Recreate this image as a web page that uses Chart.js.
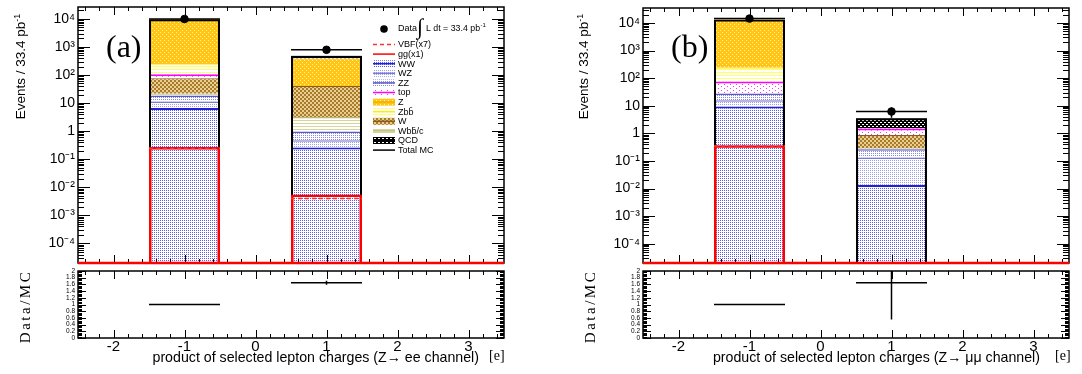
<!DOCTYPE html>
<html>
<head>
<meta charset="utf-8">
<script src="https://cdn.jsdelivr.net/npm/chart.js@4.4.0/dist/chart.umd.min.js"></script>
<style>
  body { margin: 0; background: #fff; width: 1082px; height: 374px; position: relative; overflow: hidden;
         font-family: 'Liberation Sans', Arial, Helvetica, sans-serif; }
  canvas { position: absolute; }
  .lbl { position: absolute; white-space: nowrap; color: #000; line-height: 1; }
  .panel { font-family: 'Liberation Serif', serif; font-size: 32px; }
  .xtitle { font-size: 14.2px; }
  .unit { font-family: 'Liberation Serif', serif; font-size: 14px; }
  .rot { transform: rotate(-90deg); text-align: center; }
  .ytitle { font-size: 13.5px; width: 130px; }
  .rtitle { font-family: 'Liberation Serif', serif; font-size: 15px; letter-spacing: 2.5px; width: 100px; }
</style>
</head>
<body>
<canvas id="topA" width="520" height="268" style="left:0px;top:0px"></canvas>
<canvas id="ratioA" width="520" height="106" style="left:0px;top:268px"></canvas>
<canvas id="topB" width="520" height="268" style="left:562px;top:0px"></canvas>
<canvas id="ratioB" width="520" height="106" style="left:562px;top:268px"></canvas>

<div class="lbl panel" style="left:106px;top:30px">(a)</div>
<div class="lbl panel" style="left:671px;top:30px">(b)</div>

<div class="lbl rot ytitle" style="left:-45px;top:59px">Events / 33.4 pb<sup style="font-size:9px">-1</sup></div>
<div class="lbl rot ytitle" style="left:518px;top:59px">Events / 33.4 pb<sup style="font-size:9px">-1</sup></div>
<div class="lbl rot rtitle" style="left:-25px;top:299px">Data/MC</div>
<div class="lbl rot rtitle" style="left:540px;top:299px">Data/MC</div>

<div class="lbl xtitle" style="right:603px;top:350px">product of selected lepton charges (Z&#8594; ee channel)</div>
<div class="lbl unit" style="left:489px;top:349px">[e]</div>
<div class="lbl xtitle" style="right:42px;top:350px">product of selected lepton charges (Z&#8594; &#956;&#956; channel)</div>
<div class="lbl unit" style="left:1055px;top:349px">[e]</div>

<script>
var FONT = "'Liberation Sans', Arial, Helvetica, sans-serif";

// ── binning: product of selected lepton charges ──
var binCenters = [-1, 1];
var binHalfWidth = 0.5;
var xTicks = [-2, -1, 0, 1, 2, 3];

// ── axis ticks ──
var logTicks = [1e-4, 1e-3, 1e-2, 1e-1, 1, 10, 100, 1e3, 1e4];
var logTickLabels = ['10\u207b\u2074', '10\u207b\u00b3', '10\u207b\u00b2', '10\u207b\u00b9', '1', '10', '10\u00b2', '10\u00b3', '10\u2074'];
var ratioTicks = [0, 0.2, 0.4, 0.6, 0.8, 1, 1.2, 1.4, 1.6, 1.8, 2];
var ratioTickLabels = ['0', '0.2', '0.4', '0.6', '0.8', '1', '1.2', '1.4', '1.6', '1.8', '2'];

// stack order, bottom to top
var componentNames = ['WW', 'WZ', 'ZZ', 'Wbb/c', 'W', 'top', 'Zbb', 'Z', 'QCD'];
// legend rows (text) and the component each row shows
var legendLabels = ['VBF(x7)', 'gg(x1)', 'WW', 'WZ', 'ZZ', 'top', 'Z', 'Zbb\u0304', 'W', 'Wbb\u0304/c', 'QCD', 'Total MC'];
var legendKeys = ['VBF', 'gg', 'WW', 'WZ', 'ZZ', 'top', 'Z', 'Zbb', 'W', 'Wbb/c', 'QCD', 'Total'];

// ── panel (a): Z -> ee, values for bins [-1, +1] ──
var eeWW   = [6.7, 0.26];
var eeWZ   = [4.6, 0.21];
var eeZZ   = [7.2, 0.51];
var eeWbbc = [3.0, 2.2];
var eeW    = [55, 37];
var eeTop  = [30, 0.3];
var eeZbb  = [135, 0.2];
var eeZ    = [9450, 350];
var eeQCD  = [0, 90];
var eeGG   = [0.27, 0.0055];
var eeVBF  = [0.24, 0.004];
var eeData = [9900, 790];
var eeDataErr = [100, 28];
var eeRatio = [1.0, 1.65];
var eeRatioErr = [0.01, 0.06];

// ── panel (b): Z -> mumu ──
var mmWW   = [9.4, 0.0134];
var mmWZ   = [6.6, 0.12];
var mmZZ   = [12, 0.13];
var mmWbbc = [0.3, 0.02];
var mmW    = [0.4, 0.58];
var mmTop  = [47, 0.65];
var mmZbb  = [165, 0];
var mmZ    = [13150, 0];
var mmQCD  = [0, 2.05];
var mmGG   = [0.37, 0];
var mmVBF  = [0.35, 0];
var mmData = [14500, 6.2];
var mmDataErr = [120, 2.5];
var mmRatio = [1.0, 1.65];
var mmRatioErr = [0.02, 1.1];

// ── fill patterns (ROOT-like hatches) ──
function pattern(w, h, bg, fg, cells) {
  var c = document.createElement('canvas');
  c.width = w; c.height = h;
  var g = c.getContext('2d');
  g.fillStyle = bg; g.fillRect(0, 0, w, h);
  g.fillStyle = fg;
  cells.forEach(function(r) { g.fillRect(r[0], r[1], r[2], r[3]); });
  return g.createPattern(c, 'repeat');
}

var compStyle = {
  'WW':    { fill: pattern(2, 2, '#ffffff', '#5c5cf5', [[0, 0, 1, 1]]), line: '#1f1fd6', bw: 2 },
  'WZ':    { fill: pattern(2, 2, '#ffffff', '#a0a0f2', [[0, 0, 1, 1]]), line: '#7a7ad8', bw: 1.5 },
  'ZZ':    { fill: pattern(2, 2, '#ffffff', '#8a8ae8', [[1, 1, 1, 1]]), line: '#5a5ac0', bw: 1.5 },
  'Wbb/c': { fill: pattern(1, 3, '#ffffff', '#d6d69a', [[0, 0, 1, 1]]), line: '#b8b870', bw: 1.5 },
  'W':     { fill: pattern(4, 4, '#a87c2c', '#e8cf90', [[0, 0, 2, 2], [2, 2, 2, 2]]), line: '#8a5e14', bw: 1 },
  'top':   { fill: pattern(6, 4, '#ffffff', '#ff33ff', [[0, 0, 1, 1], [3, 2, 1, 1]]), line: '#ff00ff', bw: 2 },
  'Zbb':   { fill: pattern(1, 3, '#ffffff', '#ffff66', [[0, 0, 1, 1]]), line: '#ffee00', bw: 1 },
  'Z':     { fill: pattern(4, 4, '#ffc510', '#fff2b8', [[0, 0, 1, 1], [2, 2, 1, 1]]), line: '#e8b400', bw: 1 },
  'QCD':   { fill: pattern(4, 4, '#000000', '#ffffff', [[0, 0, 2, 1], [2, 2, 2, 1]]), line: '#000000', bw: 1 }
};

function points(vals) {
  return binCenters.map(function(c, i) { return { x: c, y: vals[i] }; });
}

// horizontal segment across each bin (VBF dashed line)
function binSteps(vals) {
  var out = [];
  binCenters.forEach(function(c, i) {
    var v = vals[i] > 0 ? vals[i] : null;
    if (i > 0) out.push({ x: c - 1, y: null });
    out.push({ x: c - binHalfWidth, y: v });
    out.push({ x: c + binHalfWidth, y: v });
  });
  return out;
}

// keep the plot frame where the layout padding puts it
function noLabelPadding(s) {
  s.paddingTop = 0;
  s.paddingBottom = 0;
}

// ── plugin: ROOT style frame with inward ticks ──
var rootFrame = {
  id: 'rootFrame',
  afterDraw: function(chart) {
    var a = chart.chartArea, ctx = chart.ctx;
    var xs = chart.scales.x, ys = chart.scales.y;
    var isLog = ys.type === 'logarithmic';
    ctx.save();
    ctx.strokeStyle = '#000';
    ctx.lineWidth = 1;
    ctx.beginPath();
    var k, px, len;
    for (k = Math.ceil(xs.min * 5); k <= Math.floor(xs.max * 5); k++) {
      px = Math.round(xs.getPixelForValue(k / 5)) + 0.5;
      len = (k % 5 === 0) ? 8 : 4;
      ctx.moveTo(px, a.bottom); ctx.lineTo(px, a.bottom - len);
      ctx.moveTo(px, a.top); ctx.lineTo(px, a.top + len);
    }
    var yt = [];
    if (isLog) {
      for (var e = Math.floor(Math.log10(ys.min)); e <= Math.ceil(Math.log10(ys.max)); e++) {
        for (var m = 1; m <= 9; m++) {
          var v = m * Math.pow(10, e);
          if (v >= ys.min && v <= ys.max) yt.push([v, m === 1]);
        }
      }
    } else {
      for (k = 0; k <= 50; k++) yt.push([k * 0.04, k % 5 === 0]);
    }
    yt.forEach(function(t) {
      var py = Math.round(ys.getPixelForValue(t[0])) + 0.5;
      var l = isLog ? (t[1] ? 12 : 6) : (t[1] ? 8 : 4);
      ctx.moveTo(a.left, py); ctx.lineTo(a.left + l, py);
      ctx.moveTo(a.right, py); ctx.lineTo(a.right - l, py);
    });
    ctx.stroke();
    ctx.lineWidth = 1.5;
    ctx.strokeRect(a.left, a.top, a.right - a.left, a.bottom - a.top);
    if (isLog) {
      ctx.strokeStyle = '#ff0000';
      ctx.lineWidth = 2.5;
      ctx.beginPath();
      ctx.moveTo(a.left, a.bottom); ctx.lineTo(a.right, a.bottom);
      ctx.stroke();
    }
    ctx.restore();
  }
};

// ── plugin: error bars (bin width horizontally, errY vertically) ──
var errorBars = {
  id: 'errorBars',
  afterDatasetsDraw: function(chart) {
    var ctx = chart.ctx, a = chart.chartArea;
    var xs = chart.scales.x, ys = chart.scales.y;
    ctx.save();
    ctx.beginPath();
    ctx.rect(a.left, a.top, a.right - a.left, a.bottom - a.top);
    ctx.clip();
    ctx.strokeStyle = '#000';
    ctx.lineWidth = 1.5;
    chart.data.datasets.forEach(function(ds) {
      if (!ds.errY) return;
      ds.data.forEach(function(p, i) {
        var y = ys.getPixelForValue(p.y);
        var x0 = xs.getPixelForValue(p.x - binHalfWidth);
        var x1 = xs.getPixelForValue(p.x + binHalfWidth);
        var xc = xs.getPixelForValue(p.x);
        var lo = p.y - ds.errY[i];
        var yLo = lo > 0 ? ys.getPixelForValue(lo) : a.bottom;
        var yHi = ys.getPixelForValue(p.y + ds.errY[i]);
        ctx.beginPath();
        ctx.moveTo(x0, y); ctx.lineTo(x1, y);
        ctx.moveTo(xc, yLo); ctx.lineTo(xc, yHi);
        ctx.stroke();
      });
    });
    ctx.restore();
  }
};

// ── plugin: legend drawn inside panel (a) ──
var histLegend = {
  id: 'histLegend',
  afterDraw: function(chart) {
    var ctx = chart.ctx;
    var x0 = 373, sw = 22, tx = 398;
    ctx.save();
    ctx.fillStyle = '#000';
    ctx.textBaseline = 'middle';
    // data row
    ctx.beginPath(); ctx.arc(384, 29, 3.8, 0, Math.PI * 2); ctx.fill();
    ctx.font = '9px ' + FONT;
    ctx.fillText('Data', tx, 29);
    ctx.font = "22px 'Liberation Serif', serif";
    ctx.fillText('\u222b', 417, 28);
    ctx.font = '8.8px ' + FONT;
    var lum = 'L dt = 33.4 pb';
    ctx.fillText(lum, 426, 29);
    var lw = ctx.measureText(lum).width;
    ctx.font = '6px ' + FONT;
    ctx.fillText('-1', 426 + lw + 0.5, 25);

    legendLabels.forEach(function(label, i) {
      var y = 44.5 + i * 9.6;
      var key = legendKeys[i];
      ctx.save();
      if (key === 'VBF') {
        ctx.strokeStyle = '#ff3030'; ctx.lineWidth = 1.5; ctx.setLineDash([4, 3]);
        ctx.beginPath(); ctx.moveTo(x0, y); ctx.lineTo(x0 + sw, y); ctx.stroke();
      } else if (key === 'gg' || key === 'Total') {
        ctx.strokeStyle = key === 'gg' ? '#ff0000' : '#000'; ctx.lineWidth = 1.5;
        ctx.beginPath(); ctx.moveTo(x0, y); ctx.lineTo(x0 + sw, y); ctx.stroke();
      } else {
        var st = compStyle[key];
        ctx.fillStyle = st.fill;
        ctx.fillRect(x0, y - 3.5, sw, 7);
        ctx.strokeStyle = st.line; ctx.lineWidth = 1.5;
        ctx.beginPath(); ctx.moveTo(x0, y); ctx.lineTo(x0 + sw, y); ctx.stroke();
      }
      ctx.restore();
      ctx.fillStyle = '#000';
      ctx.font = '9px ' + FONT;
      ctx.fillText(label, tx, y + 0.5);
    });
    ctx.restore();
  }
};

function buildTop(id, comps, gg, vbf, data, dataErr, yMax, axisWidth, padTop, padRight, extra) {
  var totals = binCenters.map(function(c, i) {
    return comps.reduce(function(s, arr) { return s + arr[i]; }, 0);
  });
  var sets = [
    { type: 'line', label: 'Data', data: points(data), errY: dataErr, stack: 'data', showLine: false,
      pointRadius: 3.8, pointBackgroundColor: '#000', pointBorderColor: '#000' },
    { type: 'line', label: 'VBF(x7)', data: binSteps(vbf), stack: 'vbf', borderColor: '#ff3030',
      borderDash: [4, 3], borderWidth: 1.5, pointRadius: 0, spanGaps: false },
    { label: 'gg(x1)', data: points(gg), stack: 'gg', backgroundColor: 'rgba(0,0,0,0)',
      borderColor: '#ff0000', borderWidth: 2.5, inflateAmount: 0 },
    { label: 'Total MC', data: points(totals), stack: 'total', backgroundColor: 'rgba(0,0,0,0)',
      borderColor: '#000', borderWidth: 2, inflateAmount: 0 }
  ];
  componentNames.forEach(function(name, j) {
    var st = compStyle[name];
    sets.push({ label: name, data: points(comps[j]), stack: 'bg', backgroundColor: st.fill,
      borderColor: st.line, borderWidth: { top: st.bw, left: 0, right: 0, bottom: 0 }, borderSkipped: false });
  });
  return new Chart(document.getElementById(id), {
    type: 'bar',
    data: { datasets: sets },
    options: {
      responsive: false, animation: false, events: [],
      datasets: { bar: { grouped: false, categoryPercentage: 0.5, barPercentage: 1 } },
      layout: { padding: { top: padTop, right: padRight, bottom: 3, left: 0 } },
      plugins: { legend: { display: false }, tooltip: { enabled: false } },
      scales: {
        x: { type: 'linear', min: -2.5, max: 3.5, offset: false, display: false,
             afterBuildTicks: function(s) { s.ticks = binCenters.map(function(v) { return { value: v }; }); } },
        y: { type: 'logarithmic', min: 2e-5, max: yMax, stacked: true,
             afterBuildTicks: function(s) { s.ticks = logTicks.map(function(v) { return { value: v }; }); },
             afterFit: function(s) { s.width = axisWidth; noLabelPadding(s); },
             ticks: { color: '#000', padding: 3, autoSkip: false, font: { family: FONT, size: 14, lineHeight: 1 },
                      callback: function(v) { return logTickLabels[logTicks.indexOf(v)]; } },
             grid: { display: false, drawTicks: false }, border: { display: false } }
      }
    },
    plugins: [rootFrame, errorBars].concat(extra || [])
  });
}

function buildRatio(id, ratio, ratioErr, axisWidth, padRight) {
  return new Chart(document.getElementById(id), {
    type: 'line',
    data: { datasets: [{ data: points(ratio), errY: ratioErr, showLine: false, pointRadius: 0 }] },
    options: {
      responsive: false, animation: false, events: [],
      layout: { padding: { top: 3, right: padRight, bottom: 0, left: 0 } },
      plugins: { legend: { display: false }, tooltip: { enabled: false } },
      scales: {
        x: { type: 'linear', min: -2.5, max: 3.5, offset: false,
             afterBuildTicks: function(s) { s.ticks = xTicks.map(function(v) { return { value: v }; }); },
             afterFit: function(s) { s.height = 36; },
             ticks: { color: '#000', padding: 1, autoSkip: false, maxRotation: 0,
                      font: { family: FONT, size: 15, lineHeight: 1 },
                      callback: function(v) { return String(v); } },
             grid: { display: false, drawTicks: false }, border: { display: false } },
        y: { min: 0, max: 2,
             afterBuildTicks: function(s) { s.ticks = ratioTicks.map(function(v) { return { value: v }; }); },
             afterFit: function(s) { s.width = axisWidth; noLabelPadding(s); },
             ticks: { color: '#000', padding: 3, autoSkip: false, font: { family: FONT, size: 6.5, lineHeight: 1 },
                      callback: function(v) { return ratioTickLabels[ratioTicks.indexOf(v)]; } },
             grid: { display: false, drawTicks: false }, border: { display: false } }
      }
    },
    plugins: [rootFrame, errorBars]
  });
}

buildTop('topA', [eeWW, eeWZ, eeZZ, eeWbbc, eeW, eeTop, eeZbb, eeZ, eeQCD], eeGG, eeVBF, eeData, eeDataErr,
         2.65e4, 78, 7, 16, [histLegend]);
buildRatio('ratioA', eeRatio, eeRatioErr, 78, 16);
buildTop('topB', [mmWW, mmWZ, mmZZ, mmWbbc, mmW, mmTop, mmZbb, mmZ, mmQCD], mmGG, mmVBF, mmData, mmDataErr,
         3.5e4, 81, 8, 13);
buildRatio('ratioB', mmRatio, mmRatioErr, 81, 13);
</script>
</body>
</html>
